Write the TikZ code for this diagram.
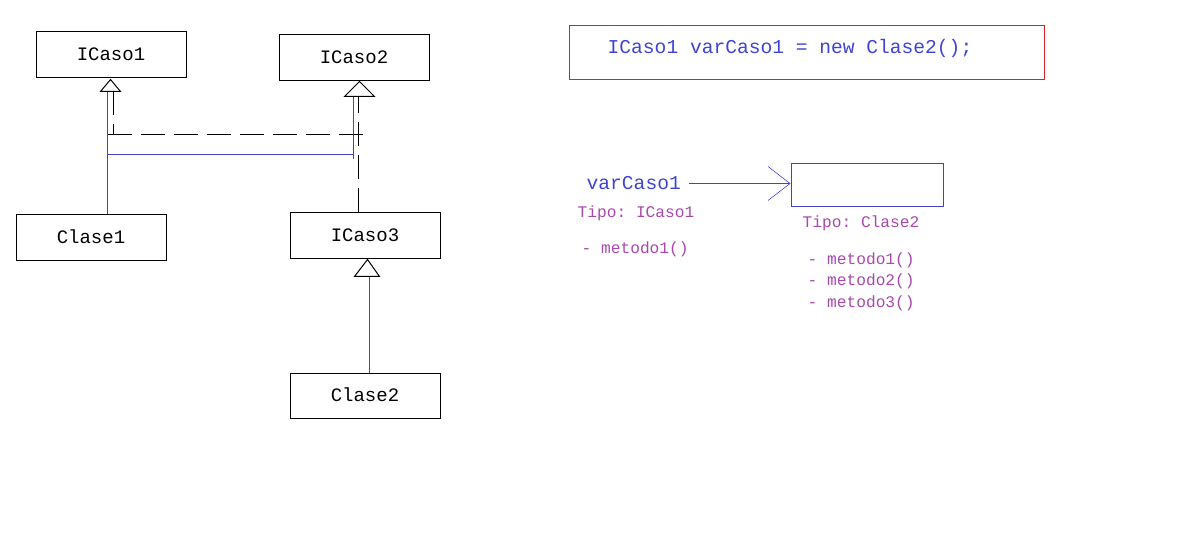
\documentclass[tikz,border=0pt]{standalone}
\usepackage{fontspec}
\setmonofont{Liberation Mono}
\usetikzlibrary{arrows.meta}
\definecolor{codeblue}{RGB}{62,68,210}
\definecolor{lineblue}{RGB}{66,66,205}
\definecolor{tpurple}{RGB}{168,72,172}
\definecolor{boxred}{RGB}{225,30,35}
\tikzset{
  cls/.style={draw=black, line width=1pt, minimum width=150pt, minimum height=46pt,
    inner sep=0pt, anchor=north west, font=\ttfamily\fontsize{19}{19}\selectfont,
    text height=12pt, text depth=1pt},
  realize/.style={draw=lineblue, line width=1pt},
  depend/.style={draw=black, line width=1pt, dash pattern=on 24pt off 9pt},
  tri/.style={draw=black, fill=white, line width=1pt, line join=miter},
  codetext/.style={text=codeblue, inner sep=0pt, anchor=west, font=\ttfamily\fontsize{19.6}{20}\selectfont},
  ptext/.style={text=tpurple, inner sep=0pt, anchor=west, align=left, font=\ttfamily\fontsize{16.2}{21.5}\selectfont},
}
\begin{document}
\begin{tikzpicture}[x=1pt,y=-1pt]
\useasboundingbox (0,0) rectangle (1202,553);
\begin{scope}[shift={(0.5,0.5)}]
% class boxes
\node[cls] (ICaso1) at (35,31) {ICaso1};
\node[cls] (ICaso2) at (278,34) {ICaso2};
\node[cls] (Clase1) at (15,214) {Clase1};
\node[cls] (ICaso3) at (289,212) {ICaso3};
\node[cls, minimum height=45pt] (Clase2) at (289,372) {Clase2};
% junction coordinates
\coordinate (b1) at (107,91);
\coordinate (h1) at (107,154);
\coordinate (h2) at (353,154);
\coordinate (v2top) at (353,96);
\coordinate (v2bot) at (353,159);
\coordinate (d1top) at (113,91);
\coordinate (d1bot) at (113,134);
\coordinate (dh1) at (107,134);
\coordinate (dh2) at (364,134);
\coordinate (d2top) at (358,96);
\coordinate (b3) at (369,277);
% blue realization lines
\draw[realize] (Clase1.north -| b1) -- (b1);
\draw[realize] (h1) -- (h2);
\draw[realize] (v2bot) -- (v2top);
\draw[realize] (Clase2.north -| b3) -- (b3);
% dashed dependency lines
\draw[depend] (d1top) -- (d1bot);
\draw[depend] (dh1) -- (dh2);
\draw[depend] (ICaso3.north -| d2top) -- (d2top);
% triangles
\draw[tri] (110,79) -- (100,91) -- (120,91) -- cycle;
\draw[tri] (359,81) -- (344,96) -- (374,96) -- cycle;
\draw[tri] (367,259) -- (354,276) -- (379,276) -- cycle;
% code box
\node[draw=boxred, line width=1pt, minimum width=475pt, minimum height=54pt, inner sep=0pt, anchor=north west] (code) at (568,25) {};
\node[codetext] (codeline) at (607,48) {ICaso1 varCaso1 = new Clase2();};
% variable and object
\node[codetext, inner xsep=0pt] (var) at (586,183) {varCaso1};
\node[draw=lineblue, line width=1pt, minimum width=152pt, minimum height=43pt, inner sep=0pt, anchor=north west] (obj) at (790,163) {};
\draw[draw=lineblue, line width=0.8pt, shorten <=8pt,
  -{Straight Barb[length=22pt, width=34pt, line width=0.6pt]}] (var.east) -- (var.east -| obj.west);
% purple annotations
\node[ptext] (tipo1) at (577,213) {Tipo: ICaso1};
\node[ptext] (met1) at (581,249) {- metodo1()};
\node[ptext] (tipo2) at (802,223) {Tipo: Clase2};
\node[ptext, anchor=north west] (met2) at (807,252) {- metodo1()\\- metodo2()\\- metodo3()};
\end{scope}
\end{tikzpicture}
\end{document}
